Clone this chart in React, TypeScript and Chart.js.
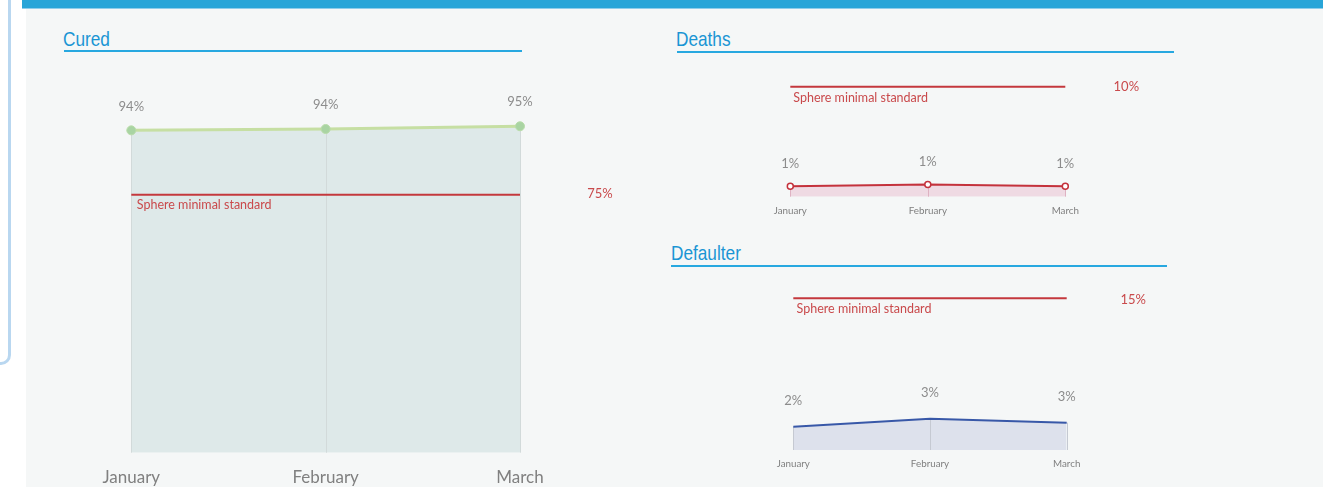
import React, { useEffect, useRef } from 'react';
import { Chart, registerables } from 'chart.js';

Chart.register(...registerables);

// ---------- data ----------
const months = ['January', 'February', 'March'];
const curedValues = [93.7, 94.1, 94.9];
const curedStandard = 75;
const deathsValues = [0.95, 1.1, 0.95];
const deathsStandard = 10;
const defaulterValues = [2.3, 3.1, 2.7];
const defaulterStandard = 15;
const standardLabel = 'Sphere minimal standard';

type Cfg = {
  x: number; y: number; w: number; h: number;
  pad: { left: number; right: number; top: number; bottom: number };
  axisH: number; tickPad: number; tickFont: number;
  yMax: number;
  values: number[]; standard: number;
  line: string; lineW: number; fill: string; drop: string;
  pointR: number; pointBg: string; pointBorder: string; pointBW: number;
  valueFont: number; valueOffset: number;
  stdFont: number; stdDx: number; stdDy: number;
  pctFont: number; pctDx: number; pctDy: number;
};

const RED = '#c4383d';
const RED_TEXT = '#c94a4c';

const curedCfg: Cfg = {
  x: 80, y: 60, w: 560, h: 427,
  pad: { left: 51.3, right: 120, top: 48.7, bottom: 0 },
  axisH: 34.3, tickPad: 15, tickFont: 17,
  yMax: 100,
  values: curedValues, standard: curedStandard,
  line: '#c6dfa3', lineW: 3, fill: '#dee9e9', drop: '#d2dada',
  pointR: 4.5, pointBg: '#a9d4a3', pointBorder: '#b9dcaa', pointBW: 1,
  valueFont: 13, valueOffset: 24,
  stdFont: 12.5, stdDx: 5.5, stdDy: 10.5,
  pctFont: 13, pctDx: 80, pctDy: -0.5,
};

const deathsCfg: Cfg = {
  x: 680, y: 60, w: 480, h: 170,
  pad: { left: 110.3, right: 94.7, top: 15.7, bottom: 0 },
  axisH: 33.3, tickPad: 8, tickFont: 9.8,
  yMax: 11,
  values: deathsValues, standard: deathsStandard,
  line: '#c4323c', lineW: 2, fill: '#efdae3', drop: '#deb2c2',
  pointR: 3, pointBg: '#ffffff', pointBorder: '#c4323c', pointBW: 1.5,
  valueFont: 13, valueOffset: 22.5,
  stdFont: 12.5, stdDx: 3, stdDy: 11,
  pctFont: 13, pctDx: 61, pctDy: 0,
};

const defaulterCfg: Cfg = {
  x: 680, y: 270, w: 480, h: 217,
  pad: { left: 113.3, right: 93.3, top: 18.2, bottom: 0 },
  axisH: 37, tickPad: 7.5, tickFont: 9.8,
  yMax: 16,
  values: defaulterValues, standard: defaulterStandard,
  line: '#3858a8', lineW: 2, fill: '#dde1ec', drop: '#c5c9d2',
  pointR: 0, pointBg: '#3858a8', pointBorder: '#3858a8', pointBW: 0,
  valueFont: 13, valueOffset: 26,
  stdFont: 12.5, stdDx: 3.3, stdDy: 10.7,
  pctFont: 13, pctDx: 66.5, pctDy: 1,
};

function MiniChart({ cfg }: { cfg: Cfg }) {
  const ref = useRef<HTMLCanvasElement>(null);
  useEffect(() => {
    const c = cfg;
    const annot = {
      id: 'annot',
      beforeDatasetDraw(chart: any, args: any) {
        if (args.index !== 0) return;
        const ctx = chart.ctx;
        const bottom = chart.chartArea.bottom;
        ctx.save();
        ctx.strokeStyle = c.drop;
        ctx.lineWidth = 1;
        args.meta.data.forEach((pt: any) => {
          const px = Math.round(pt.x) + 0.5;
          ctx.beginPath();
          ctx.moveTo(px, pt.y);
          ctx.lineTo(px, bottom);
          ctx.stroke();
        });
        ctx.restore();
      },
      afterDatasetsDraw(chart: any) {
        const ctx = chart.ctx;
        const meta = chart.getDatasetMeta(0);
        ctx.save();
        ctx.textBaseline = 'middle';
        ctx.textAlign = 'center';
        ctx.fillStyle = '#8c8c8c';
        ctx.font = `${c.valueFont}px Lato`;
        meta.data.forEach((pt: any, i: number) => {
          ctx.fillText(Math.round(c.values[i]) + '%', pt.x, pt.y - c.valueOffset);
        });
        const rm = chart.getDatasetMeta(1);
        const first = rm.data[0];
        const last = rm.data[rm.data.length - 1];
        ctx.fillStyle = RED_TEXT;
        ctx.textAlign = 'left';
        ctx.font = `${c.stdFont}px Lato`;
        ctx.fillText(standardLabel, first.x + c.stdDx, first.y + c.stdDy);
        ctx.textAlign = 'center';
        ctx.font = `${c.pctFont}px Lato`;
        ctx.fillText(c.standard + '%', last.x + c.pctDx, last.y + c.pctDy);
        ctx.restore();
      },
    };
    const chart = new Chart(ref.current as HTMLCanvasElement, {
      type: 'line',
      data: {
        labels: months,
        datasets: [
          {
            data: c.values,
            borderColor: c.line,
            borderWidth: c.lineW,
            backgroundColor: c.fill,
            fill: 'origin',
            tension: 0,
            pointRadius: c.pointR,
            pointBackgroundColor: c.pointBg,
            pointBorderColor: c.pointBorder,
            pointBorderWidth: c.pointBW,
            order: 1,
          },
          {
            data: months.map(() => c.standard),
            borderColor: RED,
            borderWidth: 2,
            pointRadius: 0,
            fill: false,
            order: 0,
          },
        ],
      },
      options: {
        animation: false,
        responsive: false,
        maintainAspectRatio: false,
        events: [],
        layout: { padding: c.pad },
        plugins: { legend: { display: false }, tooltip: { enabled: false } },
        scales: {
          x: {
            grid: { display: false, drawTicks: false },
            border: { display: false },
            ticks: {
              font: { family: 'Lato', size: c.tickFont },
              color: '#808080',
              padding: c.tickPad,
              maxRotation: 0,
              autoSkip: false,
            },
            afterFit: (s: any) => { s.height = c.axisH; },
          },
          y: { display: false, min: 0, max: c.yMax },
        },
      } as any,
      plugins: [annot],
    });
    return () => chart.destroy();
  }, [cfg]);
  return (
    <canvas
      ref={ref}
      width={cfg.w}
      height={cfg.h}
      style={{ position: 'absolute', left: cfg.x, top: cfg.y, width: cfg.w, height: cfg.h }}
    />
  );
}

function Title({ text, x, y }: { text: string; x: number; y: number }) {
  return (
    <div
      style={{
        position: 'absolute', left: x, top: y,
        fontFamily: '"Liberation Sans", Arial, sans-serif', fontSize: 21, lineHeight: '21px',
        color: '#1a95d4', transform: 'scaleX(0.82)', transformOrigin: 'left top', whiteSpace: 'nowrap',
      }}
    >
      {text}
    </div>
  );
}

function Rule({ x, y, w }: { x: number; y: number; w: number }) {
  return <div style={{ position: 'absolute', left: x, top: y, width: w, height: 2, background: '#27a8e0' }} />;
}

export default function App() {
  return (
    <div style={{ position: 'absolute', left: 0, top: 0, width: 1323, height: 487, overflow: 'hidden', background: '#ffffff' }}>
      <div style={{
        position: 'absolute', left: -20, top: -10, width: 28, height: 372,
        borderRight: '3px solid #b9d7f0', borderBottom: '3px solid #b9d7f0', borderBottomRightRadius: 10,
      }} />
      <div style={{ position: 'absolute', left: 26, top: 8, width: 1297, height: 479, background: '#f5f7f7' }} />
      <div style={{ position: 'absolute', left: 22, top: 0, width: 1301, height: 8, background: '#28a5d8' }} />
      <div style={{ position: 'absolute', left: 22, top: 8, width: 1301, height: 1, background: '#8fcdea' }} />
      <Title text="Cured" x={63} y={28.2} />
      <Rule x={64} y={49.7} w={458} />
      <Title text="Deaths" x={676} y={28.2} />
      <Rule x={677} y={51.3} w={497} />
      <Title text="Defaulter" x={671} y={242.2} />
      <Rule x={671} y={265} w={496} />
      <MiniChart cfg={curedCfg} />
      <MiniChart cfg={deathsCfg} />
      <MiniChart cfg={defaulterCfg} />
    </div>
  );
}
